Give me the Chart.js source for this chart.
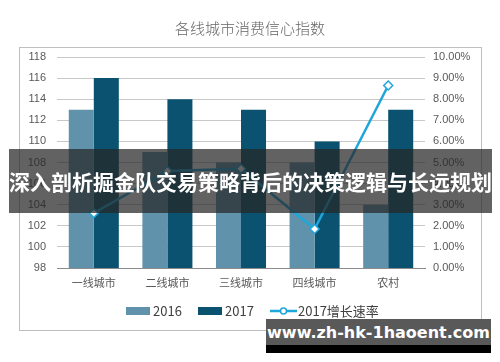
<!DOCTYPE html>
<html><head><meta charset="utf-8">
<script src="https://cdn.jsdelivr.net/npm/chart.js@4/dist/chart.umd.min.js"></script>
<style>
html,body{margin:0;padding:0;background:#fff;}
#wrap{position:relative;width:500px;height:362px;overflow:hidden;}
#banner{position:absolute;left:9px;top:149px;width:483px;height:64px;background:rgba(38,38,38,0.72);color:#fff;font:bold 21px "Noto Sans CJK SC",sans-serif;line-height:64px;text-align:center;white-space:nowrap;letter-spacing:0px;}
#wm{position:absolute;left:266px;top:319px;width:225px;height:34px;background:linear-gradient(#595959 0,#595959 26px,#000 26px);color:#fff;font:bold 16px "DejaVu Sans",sans-serif;line-height:27px;text-align:center;white-space:nowrap;}
</style></head>
<body><div id="wrap"><canvas id="c" width="500" height="362"></canvas>
<div id="banner">深入剖析掘金队交易策略背后的决策逻辑与长远规划</div>
<div id="wm">www.zh-hk-1haoent.com</div></div>
<script>
const titleText = "各线城市消费信心指数";
const categories = ["一线城市","二线城市","三线城市","四线城市","农村"];
const seriesNames = ["2016","2017","2017增长速率"];
const values2016 = [113,109,108,108,104];
const values2017 = [116,114,113,110,113];
const growth2017 = [2.6,4.6,4.7,1.85,8.65];
const leftTicks = [98,100,102,104,106,108,110,112,114,116,118];
const rightTicks = [0,1,2,3,4,5,6,7,8,9,10];

const C16 = "#6092ab", C17 = "#0b5270", CL = "#1fa6da";
const CJK = '"Noto Sans CJK SC", sans-serif';
const LAT = '"Liberation Sans", Arial, sans-serif';

const deco = {
  id:"deco",
  beforeDraw(chart){
    const ctx = chart.ctx;
    ctx.save();
    ctx.fillStyle="#fff"; ctx.fillRect(0,0,500,362);
    ctx.strokeStyle="#bfbfbf"; ctx.lineWidth=1;
    ctx.strokeRect(19.5,47.5,462,283);
    ctx.fillStyle="#666"; ctx.font="300 15px "+CJK; ctx.textAlign="center"; ctx.textBaseline="middle";
    ctx.fillText(titleText,250,28);
    ctx.restore();
  },
  afterDraw(chart){
    const ctx = chart.ctx;
    ctx.save();
    const y = 311;
    ctx.font = "13px "+CJK; ctx.textBaseline="middle"; ctx.textAlign="left";
    ctx.fillStyle=C16; ctx.fillRect(126,y-4,24,8);
    ctx.fillStyle="#404040"; ctx.fillText(seriesNames[0],153,y);
    ctx.fillStyle=C17; ctx.fillRect(198,y-4,24,8);
    ctx.fillStyle="#404040"; ctx.fillText(seriesNames[1],225,y);
    ctx.strokeStyle=CL; ctx.lineWidth=2.5; ctx.beginPath(); ctx.moveTo(270,y); ctx.lineTo(297,y); ctx.stroke();
    ctx.fillStyle="#fff"; ctx.lineWidth=1.5; ctx.beginPath(); ctx.arc(283.5,y,3,0,Math.PI*2); ctx.fill(); ctx.stroke();
    ctx.fillStyle="#404040"; ctx.fillText(seriesNames[2],298,y);
    ctx.restore();
  }
};

new Chart(document.getElementById("c"),{
  data:{
    labels:categories,
    datasets:[
      {type:"line",label:seriesNames[2],data:growth2017,yAxisID:"y1",borderColor:CL,borderWidth:2.5,
       pointStyle:"rectRot",pointRadius:4.5,pointBackgroundColor:"#fff",pointBorderColor:CL,pointBorderWidth:1.5,order:0,tension:0},
      {type:"bar",label:seriesNames[0],data:values2016,backgroundColor:C16,yAxisID:"y",categoryPercentage:0.68,barPercentage:1,order:1},
      {type:"bar",label:seriesNames[1],data:values2017,backgroundColor:C17,yAxisID:"y",categoryPercentage:0.68,barPercentage:1,order:1}
    ]
  },
  options:{
    responsive:false,animation:false,
    layout:{padding:{top:57,bottom:64,left:0,right:0}},
    plugins:{legend:{display:false},title:{display:false},tooltip:{enabled:false}},
    scales:{
      x:{grid:{display:false,drawTicks:false},border:{color:"#8c8c8c",width:1},
         ticks:{color:"#595959",font:{size:11,family:CJK},padding:8},
         afterFit(s){s.height=30;}},
      y:{position:"left",min:98,max:118,
         afterBuildTicks(s){s.ticks=leftTicks.map(v=>({value:v}));},
         grid:{color:"#c8c8c8",drawTicks:false},border:{display:false},
         ticks:{color:"#595959",font:{size:11,family:LAT},padding:11},
         afterFit(s){s.width=57;}},
      y1:{position:"right",min:0,max:10,
         afterBuildTicks(s){s.ticks=rightTicks.map(v=>({value:v}));},
         grid:{display:false,drawTicks:false},border:{display:false},
         ticks:{color:"#595959",font:{size:11,family:LAT},padding:8,callback:v=>v.toFixed(2)+"%"},
         afterFit(s){s.width=75;}}
    }
  },
  plugins:[deco]
});
</script></body></html>
